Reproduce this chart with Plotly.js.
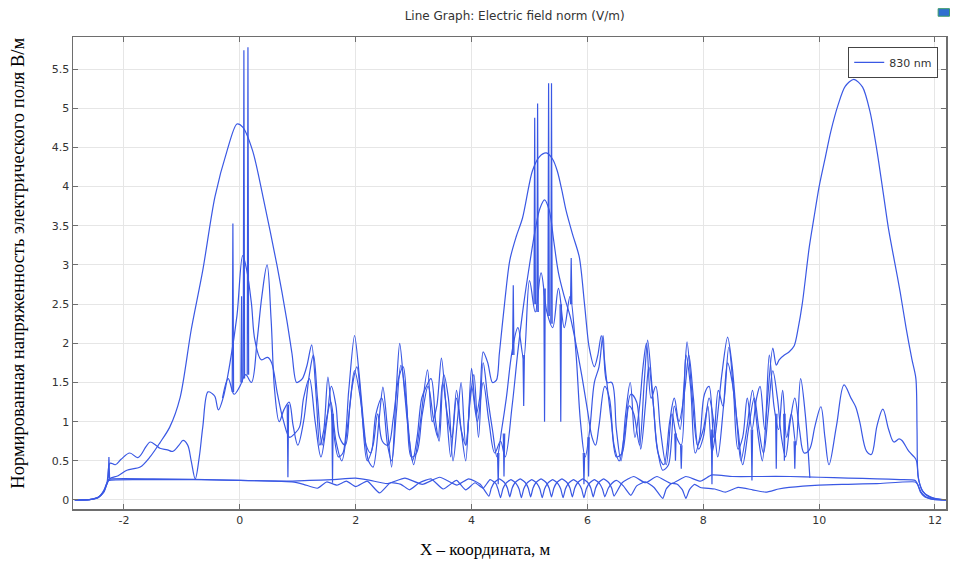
<!DOCTYPE html>
<html><head><meta charset="utf-8">
<script src="https://cdn.plot.ly/plotly-3.0.1.min.js"></script>
<style>html,body{margin:0;padding:0;background:#fff}#chart{width:953px;height:561px}</style>
</head><body><div id="chart"></div>
<script>
const seriesName = "830 nm";
const chartTitle = "Line Graph: Electric field norm (V/m)";
const xTitle = "X – координата, м";
const yTitle = "Нормированная напряженность электрического поля В/м";
const xTicks = [-2, 0, 2, 4, 6, 8, 10, 12];
const yTicks = [0, 0.5, 1, 1.5, 2, 2.5, 3, 3.5, 4, 4.5, 5, 5.5];

// upper envelope line (three broad peaks)
const envPts = [[-2.85,0],[-2.6,0.005],[-2.45,0.03],[-2.35,0.1],[-2.3,0.19],[-2.25,0.27],[-2.1,0.31],[-1.95,0.38],[-1.72,0.42],[-1.55,0.55],[-1.38,0.73],[-1.21,0.93],[-1.03,1.31],[-0.84,2.17],[-0.64,2.93],[-0.43,3.87],[-0.22,4.46],[-0.05,4.8],[0.05,4.76],[0.22,4.46],[0.4,3.87],[0.64,3.0],[0.81,2.3],[0.9,1.87],[0.98,1.5],[1.08,1.55],[1.16,1.72],[1.24,1.98],[1.32,1.3],[1.38,0.7],[1.45,0.9],[1.52,1.57],[1.6,1.0],[1.7,0.55],[1.78,0.6],[1.88,1.4],[1.98,2.1],[2.06,1.6],[2.14,0.95],[2.22,0.5],[2.3,0.42],[2.4,1.0],[2.47,1.44],[2.55,0.9],[2.62,0.42],[2.7,1.4],[2.76,2.0],[2.84,1.4],[2.92,0.8],[3.0,0.45],[3.1,0.9],[3.24,1.66],[3.32,1.0],[3.4,1.2],[3.48,1.81],[3.56,1.2],[3.64,0.55],[3.74,1.4],[3.82,0.9],[3.9,0.5],[4.0,1.68],[4.08,1.1],[4.14,1.3],[4.2,1.89],[4.28,1.75],[4.36,1.5],[4.43,1.53],[4.48,1.87],[4.57,2.51],[4.66,3.06],[4.77,3.36],[4.88,3.6],[5.05,4.2],[5.17,4.38],[5.29,4.43],[5.4,4.35],[5.48,4.2],[5.56,3.95],[5.63,3.7],[5.74,3.4],[5.86,3.1],[5.95,2.5],[6.03,1.95],[6.12,1.7],[6.18,1.85],[6.24,2.1],[6.32,1.6],[6.41,1.02],[6.5,0.55],[6.6,0.6],[6.72,1.2],[6.8,1.1],[6.9,0.7],[6.98,1.5],[7.04,2.04],[7.12,1.4],[7.2,0.7],[7.3,0.38],[7.4,0.45],[7.5,1.2],[7.6,0.9],[7.67,1.5],[7.72,2.02],[7.8,1.4],[7.9,0.7],[8.0,0.9],[8.08,1.2],[8.15,0.6],[8.22,0.9],[8.32,1.6],[8.42,2.08],[8.5,1.7],[8.58,1.0],[8.65,0.5],[8.75,0.9],[8.85,1.4],[8.95,0.8],[9.02,0.5],[9.1,1.2],[9.2,1.94],[9.26,1.72],[9.31,1.79],[9.4,1.85],[9.48,1.89],[9.57,1.97],[9.64,2.2],[9.71,2.51],[9.83,3.23],[9.91,3.6],[10.0,4.0],[10.1,4.35],[10.2,4.7],[10.33,5.05],[10.45,5.28],[10.6,5.37],[10.75,5.27],[10.88,4.95],[11.0,4.45],[11.12,3.85],[11.2,3.45],[11.3,3.05],[11.4,2.65],[11.5,2.2],[11.6,1.8],[11.67,1.55],[11.69,0.9],[11.71,0.3],[11.78,0.12],[11.9,0.04],[12.05,0.01],[12.19,0]];

// second envelope line
const secPts = [[-2.85,0],[-2.55,0.01],[-2.4,0.06],[-2.3,0.2],[-2.24,0.47],[-2.15,0.45],[-2.05,0.52],[-1.9,0.6],[-1.76,0.54],[-1.62,0.68],[-1.55,0.74],[-1.45,0.7],[-1.38,0.66],[-1.25,0.64],[-1.16,0.62],[-1.05,0.7],[-0.98,0.76],[-0.9,0.7],[-0.84,0.5],[-0.77,0.27],[-0.7,0.55],[-0.64,0.93],[-0.55,1.38],[-0.48,1.36],[-0.43,1.32],[-0.37,1.15],[-0.29,1.3],[-0.17,1.75],[-0.05,2.35],[0.05,3.12],[0.12,2.93],[0.2,2.51],[0.26,2.04],[0.37,1.79],[0.48,1.82],[0.55,1.75],[0.65,1.35],[0.75,1.02],[0.86,0.8],[0.95,0.85],[1.03,0.93],[1.1,1.3],[1.2,1.55],[1.3,1.0],[1.4,0.55],[1.5,1.0],[1.58,1.45],[1.66,1.2],[1.72,0.8],[1.82,0.7],[1.9,1.2],[1.98,1.65],[2.08,1.3],[2.18,0.7],[2.26,0.6],[2.35,1.1],[2.45,1.3],[2.55,0.7],[2.62,0.5],[2.7,1.1],[2.78,1.72],[2.88,1.2],[2.96,0.55],[3.05,0.6],[3.15,1.1],[3.25,1.45],[3.35,1.0],[3.42,0.8],[3.5,1.5],[3.58,1.1],[3.66,0.8],[3.74,1.3],[3.82,0.9],[3.9,0.7],[4.0,1.45],[4.1,1.0],[4.2,1.5],[4.3,1.0],[4.4,0.6],[4.5,0.75],[4.58,0.55],[4.7,1.2],[4.8,1.9],[4.9,2.5],[5.0,3.0],[5.1,3.45],[5.18,3.72],[5.26,3.83],[5.34,3.7],[5.42,3.3],[5.5,2.9],[5.6,2.6],[5.7,2.35],[5.8,2.0],[5.9,1.6],[6.0,1.15],[6.08,0.8],[6.14,0.7],[6.2,0.95],[6.3,1.45],[6.38,1.3],[6.46,0.7],[6.55,0.5],[6.65,0.9],[6.75,1.35],[6.85,1.25],[6.92,0.65],[7.0,1.2],[7.06,1.7],[7.14,1.2],[7.22,0.6],[7.32,0.45],[7.42,1.0],[7.5,1.3],[7.58,1.0],[7.68,1.4],[7.75,1.85],[7.83,1.3],[7.92,0.65],[8.0,0.8],[8.1,1.3],[8.18,1.0],[8.25,0.55],[8.35,1.2],[8.42,1.75],[8.5,1.5],[8.6,0.9],[8.68,0.45],[8.78,0.9],[8.88,1.3],[8.96,0.9],[9.04,0.6],[9.12,1.1],[9.2,1.65],[9.28,1.3],[9.35,0.8],[9.42,0.55],[9.5,1.0],[9.58,1.3],[9.66,0.9],[9.74,0.6],[9.83,0.64],[9.93,0.95],[10.03,1.19],[10.1,0.8],[10.17,0.45],[10.3,0.95],[10.43,1.47],[10.55,1.3],[10.63,1.19],[10.7,1.0],[10.82,0.62],[10.9,0.58],[11.0,0.95],[11.1,1.16],[11.2,0.9],[11.29,0.74],[11.38,0.78],[11.43,0.76],[11.55,0.62],[11.64,0.55],[11.68,0.5],[11.72,0.25],[11.8,0.1],[11.95,0.03],[12.19,0]];

// third oscillating line (smooth part)
const thirdPts = [[-0.3,1.3],[-0.2,1.55],[-0.1,1.35],[0.0,1.45],[0.1,1.6],[0.2,1.5],[0.3,2.05],[0.38,2.6],[0.47,3.0],[0.54,2.3],[0.6,1.4],[0.68,1.0],[0.76,1.15],[0.85,1.25],[0.92,0.95],[1.0,0.7],[1.1,1.0],[1.2,1.6],[1.27,1.85],[1.34,1.3],[1.42,0.7],[1.5,1.05],[1.57,1.25],[1.66,0.75],[1.76,0.5],[1.86,0.95],[1.94,1.45],[2.02,1.7],[2.1,1.2],[2.2,0.5],[2.3,0.7],[2.38,1.1],[2.46,0.75],[2.56,0.7],[2.65,1.05],[2.74,1.55],[2.82,1.7],[2.9,1.0],[2.98,0.5],[3.06,0.8],[3.14,1.3],[3.22,1.45],[3.3,1.55],[3.38,1.0],[3.44,0.75],[3.52,1.6],[3.6,1.3],[3.68,0.5],[3.76,1.05],[3.82,1.5],[3.9,0.7],[3.98,1.3],[4.04,1.6],[4.12,0.8],[4.2,1.75],[4.28,1.3],[4.36,0.9],[4.44,0.55],[4.52,0.9],[4.6,1.3],[4.7,1.9],[4.8,2.2],[4.9,1.8],[5.0,2.8],[5.1,2.4],[5.2,2.9],[5.3,2.4],[5.4,2.2],[5.5,2.7],[5.6,2.2],[5.7,2.6],[5.8,1.9],[5.88,1.0],[5.96,0.55],[6.04,0.9],[6.12,1.5],[6.2,1.7],[6.27,2.1],[6.34,1.5],[6.42,1.5],[6.5,0.9],[6.58,0.5],[6.66,1.1],[6.74,1.5],[6.82,0.8],[6.9,1.2],[6.96,1.7],[7.02,2.0],[7.1,1.3],[7.18,1.45],[7.26,0.9],[7.36,0.45],[7.46,1.1],[7.54,0.8],[7.62,0.7],[7.7,1.85],[7.78,1.45],[7.86,0.6],[7.94,0.8],[8.02,1.35],[8.1,1.45],[8.18,0.8],[8.26,1.4],[8.34,1.2],[8.44,1.95],[8.52,1.4],[8.6,0.65],[8.68,0.8],[8.76,1.3],[8.84,0.9],[8.92,1.3],[8.98,1.45],[9.06,0.9],[9.14,1.85],[9.22,1.2],[9.3,0.9],[9.37,1.4],[9.44,0.8],[9.52,1.1],[9.6,0.7],[9.68,1.55],[9.76,1.1],[9.84,0.28]];

// narrow spikes: position, value at the foot, value at the tip
const spikeX    = [-2.26, -0.12, 0.03, 0.07, 0.14, 0.83, 1.6, 4.46, 4.56, 4.72, 4.9, 5.09, 5.14, 5.26, 5.33, 5.38, 5.54, 5.72, 5.94, 6.02, 7.52, 7.62, 8.15, 8.84, 9.26, 9.4, 9.58];
const spikeFoot = [0.27, 1.38, 1.5, 1.55, 1.6, 1.22, 1.1, 0.6, 0.85, 1.85, 1.85, 2.5, 2.4, 2.7, 2.35, 2.25, 2.5, 2.5, 0.6, 0.8, 0.85, 0.7, 0.9, 0.9, 1.1, 1.1, 0.75];
const spikeTip  = [0.55, 3.53, 2.6, 5.74, 5.78, 0.29, 0.22, 0.2, 0.3, 2.74, 1.2, 4.88, 5.06, 1.0, 5.32, 5.32, 1.0, 3.09, 0.2, 0.3, 0.5, 0.4, 0.2, 0.25, 0.4, 0.5, 0.4];

// low line A (upper at the right end)
const lowAPts = [[-2.85,0],[-2.6,0.005],[-2.45,0.03],[-2.35,0.1],[-2.3,0.2],[-2.27,0.26],[-2.2,0.27],[-1.5,0.27],[-0.8,0.265],[0,0.25],[0.8,0.24],[1.2,0.25],[1.6,0.26],[2.0,0.28],[2.25,0.25],[2.55,0.21],[2.85,0.28],[3.15,0.2],[3.45,0.29],[3.75,0.19],[3.95,0.27],[4.15,0.2],[4.3,0.05],[4.34,0.15],[4.39,0.22],[4.48,0.27],[4.57,0.22],[4.62,0.15],[4.66,0.04],[4.7,0.15],[4.75,0.22],[4.84,0.27],[4.93,0.22],[4.98,0.15],[5.02,0.04],[5.06,0.15],[5.11,0.22],[5.2,0.27],[5.29,0.22],[5.34,0.15],[5.38,0.04],[5.42,0.15],[5.47,0.22],[5.56,0.27],[5.65,0.22],[5.7,0.15],[5.74,0.04],[5.78,0.15],[5.83,0.22],[5.92,0.27],[6.01,0.22],[6.06,0.15],[6.1,0.04],[6.14,0.15],[6.19,0.22],[6.28,0.27],[6.37,0.22],[6.42,0.15],[6.46,0.05],[6.6,0.22],[6.8,0.3],[7.0,0.22],[7.2,0.3],[7.45,0.21],[7.7,0.3],[7.95,0.24],[8.15,0.32],[8.5,0.3],[9.0,0.3],[9.5,0.3],[10.0,0.29],[10.5,0.28],[11.0,0.27],[11.4,0.26],[11.66,0.25],[11.7,0.2],[11.75,0.1],[11.82,0.04],[11.92,0.015],[12.05,0.003],[12.19,0]];

// low line B (lower at the right end)
const lowBPts = [[-2.85,0],[-2.6,0.005],[-2.45,0.03],[-2.35,0.12],[-2.3,0.21],[-2.26,0.25],[-1.5,0.26],[-0.8,0.26],[0,0.25],[0.6,0.24],[0.9,0.23],[1.1,0.2],[1.34,0.15],[1.5,0.23],[1.68,0.19],[1.84,0.24],[2.0,0.17],[2.2,0.24],[2.41,0.09],[2.6,0.22],[2.78,0.2],[2.93,0.13],[3.1,0.22],[3.3,0.27],[3.51,0.14],[3.74,0.25],[3.9,0.13],[4.06,0.22],[4.2,0.15],[4.32,0.26],[4.42,0.21],[4.46,0.13],[4.5,0.03],[4.54,0.14],[4.59,0.21],[4.68,0.26],[4.77,0.21],[4.82,0.14],[4.86,0.03],[4.9,0.14],[4.95,0.21],[5.04,0.26],[5.13,0.21],[5.18,0.14],[5.22,0.03],[5.26,0.14],[5.31,0.21],[5.4,0.26],[5.49,0.21],[5.54,0.14],[5.58,0.03],[5.62,0.14],[5.67,0.21],[5.76,0.26],[5.85,0.21],[5.9,0.14],[5.94,0.03],[5.98,0.14],[6.03,0.21],[6.12,0.26],[6.21,0.21],[6.26,0.14],[6.3,0.04],[6.36,0.15],[6.42,0.21],[6.5,0.25],[6.62,0.18],[6.75,0.06],[6.85,0.18],[7.0,0.23],[7.15,0.16],[7.3,0.02],[7.36,0.14],[7.45,0.21],[7.55,0.2],[7.64,0.13],[7.7,0.02],[7.76,0.13],[7.85,0.2],[7.95,0.16],[8.2,0.14],[8.38,0.1],[8.6,0.16],[8.85,0.13],[9.08,0.1],[9.3,0.14],[9.48,0.16],[10.0,0.19],[10.5,0.2],[11.0,0.21],[11.66,0.23],[11.7,0.2],[11.76,0.1],[11.84,0.04],[11.95,0.012],[12.08,0.002],[12.19,0]];

const lineColor = 'rgb(58,88,228)';
function mk(pts, shape, show, smoothing) {
  return {
    x: pts.map(p => p[0]), y: pts.map(p => p[1]),
    type: 'scatter', mode: 'lines', name: seriesName, showlegend: show,
    hoverinfo: 'skip',
    line: {color: lineColor, width: 1.2, shape: shape, smoothing: smoothing}
  };
}
// spikes as narrow up-and-down strokes, separated by gaps
const spikeXs = [], spikeYs = [];
spikeX.forEach((x, i) => {
  spikeXs.push(x - 0.012, x, x + 0.012, null);
  spikeYs.push(spikeFoot[i], spikeTip[i], spikeFoot[i], null);
});
const spikeTrace = {
  x: spikeXs, y: spikeYs, type: 'scatter', mode: 'lines', name: seriesName,
  showlegend: false, hoverinfo: 'skip', connectgaps: false,
  line: {color: lineColor, width: 1.2, shape: 'linear'}
};
const data = [
  mk(envPts, 'spline', true, 0.8),
  mk(secPts, 'spline', false, 1.0),
  mk(thirdPts, 'spline', false, 1.0),
  mk(lowAPts, 'spline', false, 0.5),
  mk(lowBPts, 'spline', false, 0.5),
  spikeTrace
];

const tickFont = {family: 'DejaVu Sans, sans-serif', size: 11, color: '#333'};
const axisCommon = {
  showline: true, mirror: 'ticks', linecolor: '#6e6e6e', linewidth: 1.5,
  ticks: 'inside', ticklen: 5, tickcolor: '#6e6e6e', tickwidth: 1,
  showgrid: true, gridcolor: '#e6e6e6', gridwidth: 1, zeroline: false,
  tickfont: tickFont, tickmode: 'array'
};
const layout = {
  width: 953, height: 561,
  margin: {l: 73, r: 7, t: 37, b: 52},
  paper_bgcolor: '#fff', plot_bgcolor: '#fff',
  title: {text: chartTitle, x: 0.54, xref: 'container', xanchor: 'center',
          y: 0.971, yref: 'container', yanchor: 'middle',
          font: {family: 'DejaVu Sans, sans-serif', size: 12, color: '#333'}},
  xaxis: Object.assign({}, axisCommon, {range: [-2.88, 12.19], tickvals: xTicks, ticktext: xTicks.map(String)}),
  yaxis: Object.assign({}, axisCommon, {range: [-0.115, 5.91], tickvals: yTicks, ticktext: yTicks.map(String)}),
  showlegend: true,
  legend: {x: 0.888, y: 0.979, xanchor: 'left', yanchor: 'top',
           bgcolor: '#fff', bordercolor: '#444', borderwidth: 1,
           font: {family: 'DejaVu Sans, sans-serif', size: 11, color: '#333'}},
  annotations: [
    {text: xTitle, xref: 'paper', yref: 'paper', x: 0.473, y: -0.085,
     xanchor: 'center', yanchor: 'middle', showarrow: false,
     font: {family: 'Liberation Serif, serif', size: 17, color: '#000'}},
    {text: yTitle, xref: 'paper', yref: 'paper', x: -0.064, y: 0.52,
     xanchor: 'center', yanchor: 'middle', showarrow: false, textangle: -90,
     font: {family: 'Liberation Serif, serif', size: 18.5, color: '#000'}}
  ],
  shapes: [
    {type: 'rect', xref: 'paper', yref: 'paper', x0: 0.991, x1: 1.004, y0: 1.044, y1: 1.06,
     fillcolor: '#2f6fd0', line: {color: '#3a9a6a', width: 1}}
  ]
};
Plotly.newPlot('chart', data, layout, {displayModeBar: false, staticPlot: true});
</script>
</body></html>
